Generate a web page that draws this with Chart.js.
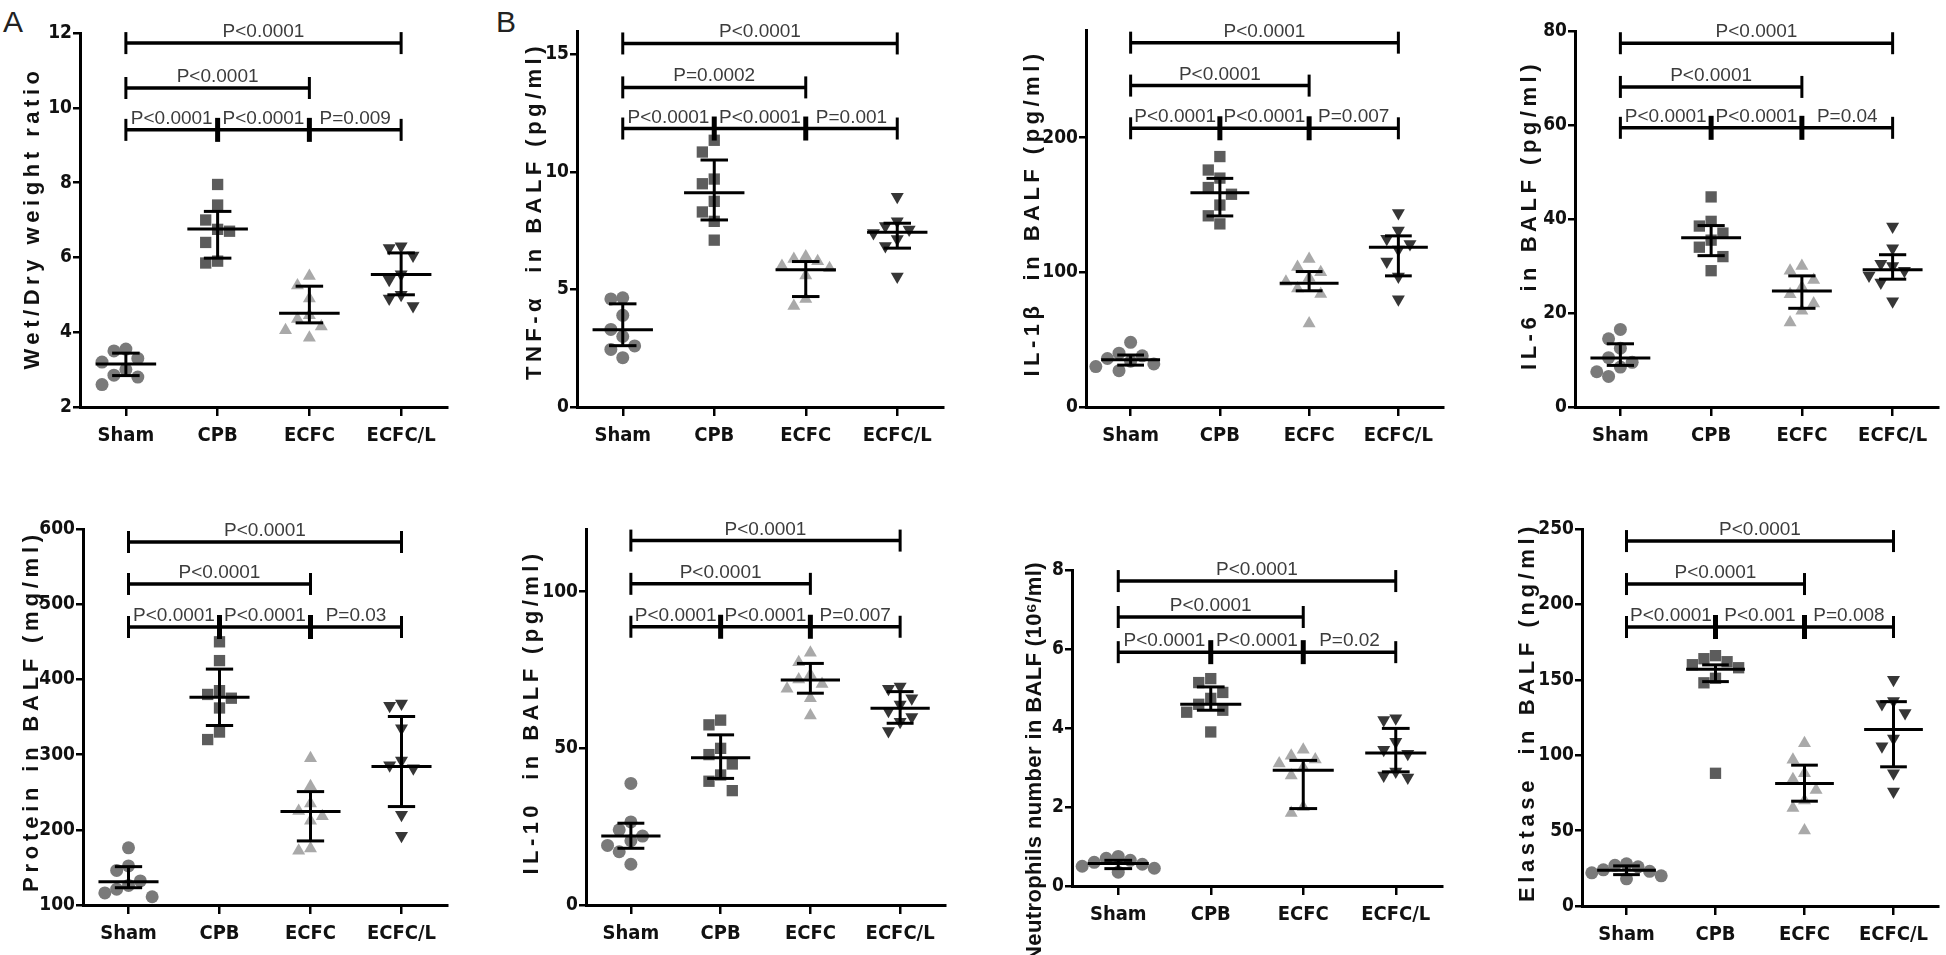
<!DOCTYPE html>
<html>
<head>
<meta charset="utf-8">
<script src="https://cdn.jsdelivr.net/npm/chart.js@4.4.1/dist/chart.umd.min.js"></script>
<style>
  body { margin: 0; background: #fff; width: 1946px; height: 955px; overflow: hidden; position: relative; }
  .panel { position: absolute; }
  .tag { position: absolute; font: 30px 'Liberation Sans', Arial, sans-serif; line-height: 30px; color: #222; }
</style>
</head>
<body>
<div class="tag" style="left:3px;top:7px">A</div>
<div class="tag" style="left:496px;top:7px">B</div>
<canvas class="panel" id="c0"></canvas>
<canvas class="panel" id="c1"></canvas>
<canvas class="panel" id="c2"></canvas>
<canvas class="panel" id="c3"></canvas>
<canvas class="panel" id="c4"></canvas>
<canvas class="panel" id="c5"></canvas>
<canvas class="panel" id="c6"></canvas>
<canvas class="panel" id="c7"></canvas>
<script>
const groups = ['Sham', 'CPB', 'ECFC', 'ECFC/L'];

// A - wet/dry weight ratio
const wetDry = [
  [3.55, 3.5, 3.3, 3.2, 3.0, 2.85, 2.8, 2.6],
  [7.95, 7.4, 7.0, 6.75, 6.7, 6.4, 5.9, 5.85],
  [5.5, 5.25, 4.9, 4.45, 4.35, 4.15, 4.05, 3.85],
  [6.3, 6.25, 6.05, 5.55, 5.4, 5.0, 4.9, 4.7]
];
const wetDryMed = [3.15, 6.76, 4.51, 5.54];
const wetDryLo = [2.84, 5.98, 4.25, 5.0];
const wetDryHi = [3.44, 7.23, 5.23, 6.12];
const wetDryTicks = [2, 4, 6, 8, 10, 12];
const wetDryP = ['P<0.0001', 'P<0.0001', 'P<0.0001', 'P<0.0001', 'P=0.009'];

// B - TNF-a
const tnf = [
  [4.65, 4.6, 3.9, 3.3, 3.0, 2.6, 2.45, 2.1],
  [11.35, 10.85, 9.7, 9.5, 8.75, 8.3, 7.9, 7.1],
  [6.4, 6.3, 6.2, 6.0, 5.9, 5.6, 4.6, 4.3],
  [8.95, 7.9, 7.7, 7.55, 7.4, 7.15, 6.85, 5.55]
];
const tnfMed = [3.29, 9.12, 5.84, 7.44];
const tnfLo = [2.61, 7.96, 4.70, 6.76];
const tnfHi = [4.39, 10.51, 6.19, 7.82];
const tnfTicks = [0, 5, 10, 15];
const tnfP = ['P<0.0001', 'P=0.0002', 'P<0.0001', 'P<0.0001', 'P=0.001'];

// IL-1b
const il1b = [
  [48, 40, 38, 36, 34, 32, 30, 27],
  [186, 176, 170, 163, 158, 150, 142, 136],
  [110, 104, 100, 96, 93, 88, 84, 62],
  [144, 131, 125, 121, 117, 108, 97, 80]
];
const il1bMed = [35.1, 159.2, 92, 118.7];
const il1bLo = [31.1, 141.9, 86.3, 97.4];
const il1bHi = [38.6, 169.8, 100.6, 127.1];
const il1bTicks = [0, 100, 200];
const il1bP = ['P<0.0001', 'P<0.0001', 'P<0.0001', 'P<0.0001', 'P=0.007'];

// IL-6
const il6 = [
  [16.5, 14.5, 12.5, 10.5, 9.5, 8.5, 7.5, 6.5],
  [44.7, 39.5, 38.5, 37, 35.5, 34, 32, 29],
  [30, 29, 27, 25.5, 24, 22, 20.5, 18],
  [38.4, 33.8, 30.5, 30, 29, 28, 26.5, 22.5]
];
const il6Med = [10.4, 36.0, 24.7, 29.2];
const il6Lo = [8.85, 32.2, 21.0, 27.2];
const il6Hi = [13.45, 38.6, 27.9, 32.4];
const il6Ticks = [0, 20, 40, 60, 80];
const il6P = ['P<0.0001', 'P<0.0001', 'P<0.0001', 'P<0.0001', 'P=0.04'];

// protein
const protein = [
  [176, 152, 146, 132, 126, 121, 116, 111],
  [450, 425, 385, 380, 375, 362, 330, 320],
  [295, 258, 235, 225, 218, 212, 175, 172],
  [368, 365, 335, 292, 286, 282, 220, 192]
];
const proteinMed = [131, 376.4, 224.2, 284.1];
const proteinLo = [123, 338.7, 185.2, 230.9];
const proteinHi = [151, 413.7, 250.8, 350.7];
const proteinTicks = [100, 200, 300, 400, 500, 600];
const proteinP = ['P<0.0001', 'P<0.0001', 'P<0.0001', 'P<0.0001', 'P=0.03'];

// IL-10
const il10 = [
  [38.8, 26.5, 24, 22, 20.5, 19, 17, 13],
  [59, 57.5, 50, 48, 45, 41.5, 39.5, 36.5],
  [80.5, 77.5, 73.5, 72, 70.5, 69, 66, 60.5],
  [69.7, 69, 66, 64, 62, 60, 58.5, 55.5]
];
const il10Med = [22, 47, 71.8, 62.8];
const il10Lo = [18.1, 40.4, 67.6, 58];
const il10Hi = [26.1, 54.3, 77.1, 68.1];
const il10Ticks = [0, 50, 100];
const il10P = ['P<0.0001', 'P<0.0001', 'P<0.0001', 'P<0.0001', 'P=0.007'];

// neutrophils
const neut = [
  [0.75, 0.7, 0.65, 0.6, 0.55, 0.5, 0.45, 0.35],
  [5.25, 5.15, 4.9, 4.75, 4.6, 4.45, 4.4, 3.9],
  [3.45, 3.3, 3.2, 3.1, 3.0, 2.8, 2.0, 1.85],
  [4.25, 4.2, 3.65, 3.45, 3.35, 2.9, 2.8, 2.75]
];
const neutMed = [0.57, 4.6, 2.93, 3.37];
const neutLo = [0.44, 4.45, 1.96, 2.89];
const neutHi = [0.65, 5.04, 3.18, 3.99];
const neutTicks = [0, 2, 4, 6, 8];
const neutP = ['P<0.0001', 'P<0.0001', 'P<0.0001', 'P<0.0001', 'P=0.02'];

// elastase
const elast = [
  [28, 27, 26, 24, 23, 22, 20, 18],
  [166, 164, 162, 160, 158, 151, 148, 88],
  [108, 97, 88, 84, 77, 70, 65, 50],
  [150, 136, 134, 128, 111, 106, 88, 76]
];
const elastMed = [23.7, 157, 81.3, 117.1];
const elastLo = [20.8, 148.8, 69.5, 92.3];
const elastHi = [26.6, 159.9, 93.4, 135.5];
const elastTicks = [0, 50, 100, 150, 200, 250];
const elastP = ['P<0.0001', 'P<0.0001', 'P<0.0001', 'P<0.001', 'P=0.008'];

const panels = [
  {title: 'Wet/Dry weight ratio', pts: wetDry, med: wetDryMed, lo: wetDryLo, hi: wetDryHi, ticks: wetDryTicks, p: wetDryP},
  {title: 'TNF-\u03b1  in BALF (pg/ml)', pts: tnf, med: tnfMed, lo: tnfLo, hi: tnfHi, ticks: tnfTicks, p: tnfP},
  {title: 'IL-1\u03b2  in BALF (pg/ml)', pts: il1b, med: il1bMed, lo: il1bLo, hi: il1bHi, ticks: il1bTicks, p: il1bP},
  {title: 'IL-6  in BALF (pg/ml)', pts: il6, med: il6Med, lo: il6Lo, hi: il6Hi, ticks: il6Ticks, p: il6P},
  {title: 'Protein in BALF (mg/ml)', pts: protein, med: proteinMed, lo: proteinLo, hi: proteinHi, ticks: proteinTicks, p: proteinP},
  {title: 'IL-10  in BALF (pg/ml)', pts: il10, med: il10Med, lo: il10Lo, hi: il10Hi, ticks: il10Ticks, p: il10P},
  {title: 'Neutrophils number in BALF (10\u2076/ml)', pts: neut, med: neutMed, lo: neutLo, hi: neutHi, ticks: neutTicks, p: neutP},
  {title: 'Elastase  in BALF (ng/ml)', pts: elast, med: elastMed, lo: elastLo, hi: elastHi, ticks: elastTicks, p: elastP}
];

// canvas boxes, plot areas (page px), axis range, bracket levels, title placement
const frames = [
  {x: 0, y: 0, w: 490, h: 477, l: 80, r: 447, t: 33, b: 407, min: 2, max: 12, bars: [11.73, 10.53, 9.41], tx: 33, ty: 218, tl: 303},
  {x: 490, y: 0, w: 485, h: 477, l: 577, r: 943, t: 31, b: 407, min: 0, max: 16, bars: [15.47, 13.6, 11.85], tx: 535, ty: 211, tl: 338},
  {x: 975, y: 0, w: 490, h: 477, l: 1086, r: 1443, t: 30, b: 407, min: 0, max: 280, bars: [270.6, 238.7, 207], tx: 1033, ty: 213, tl: 327},
  {x: 1465, y: 0, w: 481, h: 477, l: 1575, r: 1938, t: 31, b: 407, min: 0, max: 80, bars: [77.4, 68.1, 59.4], tx: 1530, ty: 215, tl: 310},
  {x: 0, y: 477, w: 490, h: 478, l: 83, r: 447, t: 529, b: 905, min: 100, max: 600, bars: [582.7, 526.9, 469.7], tx: 32, ty: 711, tl: 362},
  {x: 490, y: 477, w: 485, h: 478, l: 586, r: 945, t: 529, b: 905, min: 0, max: 120, bars: [116.3, 102.5, 88.8], tx: 532, ty: 712, tl: 325},
  {x: 975, y: 477, w: 490, h: 478, l: 1072, r: 1442, t: 570, b: 886, min: 0, max: 8, bars: [7.72, 6.81, 5.92], tx: 1035, ty: 762, tl: 400},
  {x: 1465, y: 477, w: 481, h: 478, l: 1582, r: 1942, t: 529, b: 906, min: 0, max: 250, bars: [242, 213.5, 185], tx: 1528, ty: 712, tl: 380}
];

const marks = [
  {style: 'circle', radius: 6.5, color: '#7a7a7a', rot: 0},
  {style: 'rect', radius: 8, color: '#5c5c5c', rot: 0},
  {style: 'triangle', radius: 7.5, color: '#a9a9a9', rot: 0},
  {style: 'triangle', radius: 7.5, color: '#363636', rot: 180}
];

const narrow = "'Liberation Sans Narrow', 'Arial Narrow', 'DejaVu Sans Condensed', sans-serif";
const sans = "'Liberation Sans', Arial, sans-serif";

// column scatter: points with close values get pushed sideways
function spread(vals, range) {
  const tol = range * 0.045, step = 0.13;
  const slots = [0, -1, 1, -2, 2, -3, 3];
  const placed = [];
  return vals.map(v => {
    const taken = placed.filter(p => Math.abs(p.v - v) < tol).map(p => p.s);
    let s = slots.find(k => !taken.includes(k));
    if (s === undefined) s = 0;
    placed.push({v, s});
    return s * step;
  });
}

const sigPlugin = {
  id: 'sig',
  afterDatasetsDraw(chart, args, o) {
    const ctx = chart.ctx;
    const xs = chart.scales.x, ys = chart.scales.y;
    const px = v => xs.getPixelForValue(v), py = v => ys.getPixelForValue(v);
    const seg = (x1, y1, x2, y2) => { ctx.beginPath(); ctx.moveTo(x1, y1); ctx.lineTo(x2, y2); ctx.stroke(); };
    ctx.save();
    ctx.strokeStyle = '#000';
    // median + interquartile range
    ctx.lineWidth = 3;
    o.med.forEach((m, i) => {
      seg(px(i - 0.33), py(m), px(i + 0.33), py(m));
      seg(px(i), py(o.lo[i]), px(i), py(o.hi[i]));
      seg(px(i - 0.15), py(o.lo[i]), px(i + 0.15), py(o.lo[i]));
      seg(px(i - 0.15), py(o.hi[i]), px(i + 0.15), py(o.hi[i]));
    });
    // significance brackets
    const [top, mid, low] = o.bars.map(py);
    ctx.lineWidth = 3.5;
    seg(px(0), top, px(3), top);
    seg(px(0), mid, px(2), mid);
    seg(px(0), low, px(3), low);
    ctx.lineWidth = 3;
    [[0, top], [3, top], [0, mid], [2, mid], [0, low], [3, low]].forEach(([g, y]) => seg(px(g), y - 11, px(g), y + 11));
    ctx.lineWidth = 5;
    [1, 2].forEach(g => seg(px(g), low - 12, px(g), low + 12));
    ctx.fillStyle = '#3c3c3c';
    ctx.font = '19px ' + sans;
    ctx.textAlign = 'center';
    ctx.textBaseline = 'alphabetic';
    ctx.fillText(o.p[0], px(1.5), top - 6);
    ctx.fillText(o.p[1], px(1), mid - 6);
    ctx.fillText(o.p[2], px(0.5), low - 6);
    ctx.fillText(o.p[3], px(1.5), low - 6);
    ctx.fillText(o.p[4], px(2.5), low - 6);
    // y axis title, stretched to its length in the figure
    ctx.font = 'bold 22px ' + sans;
    ctx.fillStyle = '#111';
    ctx.letterSpacing = '0px';
    const n = [...o.title].length;
    const w0 = ctx.measureText(o.title).width;
    ctx.letterSpacing = Math.max(0, (o.tl - w0) / n).toFixed(2) + 'px';
    ctx.translate(o.tx, o.ty);
    ctx.rotate(-Math.PI / 2);
    ctx.textBaseline = 'middle';
    ctx.fillText(o.title, 0, 0);
    ctx.restore();
  }
};

panels.forEach((pn, k) => {
  const f = frames[k];
  const cv = document.getElementById('c' + k);
  cv.width = f.w;
  cv.height = f.h;
  cv.style.left = f.x + 'px';
  cv.style.top = f.y + 'px';
  const range = f.max - f.min;

  const datasets = pn.pts.map((vals, i) => {
    const dx = spread(vals, range);
    return {
      label: groups[i],
      data: vals.map((v, j) => ({x: i + dx[j], y: v})),
      pointStyle: marks[i].style,
      pointRadius: marks[i].radius,
      pointRotation: marks[i].rot,
      pointBackgroundColor: marks[i].color,
      pointBorderColor: marks[i].color,
      pointBorderWidth: 0,
      clip: false
    };
  });

  new Chart(cv, {
    type: 'scatter',
    data: {datasets},
    options: {
      responsive: false,
      animation: false,
      events: [],
      layout: {padding: {left: 0, bottom: 0, top: f.t - f.y, right: f.x + f.w - f.r}},
      plugins: {
        legend: {display: false},
        tooltip: {enabled: false},
        sig: {med: pn.med, lo: pn.lo, hi: pn.hi, p: pn.p, bars: f.bars, title: pn.title,
              tx: f.tx - f.x, ty: f.ty - f.y, tl: f.tl}
      },
      scales: {
        x: {
          type: 'linear',
          min: -0.5,
          max: 3.5,
          afterBuildTicks: s => { s.ticks = groups.map((g, i) => ({value: i})); },
          afterFit: s => { s.height = f.y + f.h - f.b; },
          ticks: {callback: v => groups[v], color: '#111', padding: 8, maxRotation: 0,
                  font: {family: narrow, weight: 'bold', size: 20}},
          grid: {display: true, drawOnChartArea: false, drawTicks: true, tickLength: 9, lineWidth: 2.5, color: '#000'},
          border: {display: true, width: 3, color: '#000'}
        },
        y: {
          min: f.min,
          max: f.max,
          afterBuildTicks: s => { s.ticks = pn.ticks.map(v => ({value: v})); },
          afterFit: s => { s.width = f.l - f.x; },
          ticks: {color: '#111', padding: 1, font: {family: narrow, weight: 'bold', size: 19}},
          grid: {display: true, drawOnChartArea: false, drawTicks: true, tickLength: 7, lineWidth: 2.5, color: '#000'},
          border: {display: true, width: 3, color: '#000'}
        }
      }
    },
    plugins: [sigPlugin]
  });
});
</script>
</body>
</html>
